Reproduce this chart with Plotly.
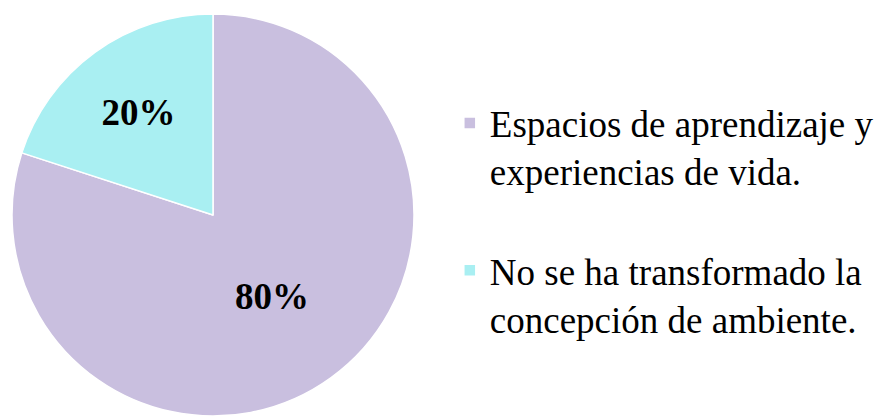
import plotly.graph_objects as go

categories = ["Espacios de aprendizaje y<br>experiencias de vida.<br> ",
              "No se ha transformado la<br>concepción de ambiente."]
values = [80, 20]
colors = ["#C9BFDF", "#A9EFF2"]

fig = go.Figure(go.Pie(
    labels=categories,
    values=values,
    sort=False,
    direction="clockwise",
    rotation=0,
    marker=dict(colors=colors, line=dict(color="white", width=1.5)),
    textinfo="percent",
    texttemplate="<b>%{percent:.0%}</b>",
    textposition="inside",
    insidetextorientation="horizontal",
    textfont=dict(family="Liberation Serif", size=37, color="black"),
    domain=dict(x=[11/882, 415/882], y=[0, 1]),
    hoverinfo="percent",
))

fig.update_layout(
    width=882, height=416,
    margin=dict(l=0, r=0, t=14, b=0),
    paper_bgcolor="white",
    showlegend=True,
    legend=dict(
        x=0.51, y=0.805, xanchor="left", yanchor="top",
        font=dict(family="Liberation Serif", size=37, color="black"),
        valign="top",
        itemwidth=30,
    ),
)

fig.write_html("out.html")
